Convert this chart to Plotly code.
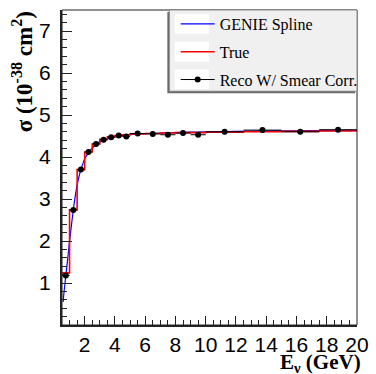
import plotly.graph_objects as go

# ---- data ----
bin_edges = [0.5, 1.0, 1.5, 2.0, 2.5, 3.0, 3.5, 4.0, 4.5, 5.0, 6.0, 7.0, 8.0, 9.0,
             10.0, 12.5, 15.0, 17.5, 20.0]
true_xsec = [1.24, 2.74, 3.70, 4.12, 4.31, 4.42, 4.48, 4.51, 4.53, 4.55, 4.56, 4.57,
             4.58, 4.58, 4.59, 4.60, 4.61, 4.62]
reco_xsec = [1.18, 2.74, 3.70, 4.12, 4.31, 4.41, 4.47, 4.51, 4.49, 4.56, 4.55, 4.53,
             4.57, 4.53, 4.60, 4.64, 4.60, 4.65]
reco_err = [0.03, 0.03, 0.02, 0.02, 0.02, 0.02, 0.02, 0.02, 0.02, 0.02, 0.02, 0.02,
            0.02, 0.02, 0.02, 0.02, 0.02, 0.02]
spline_e = [0.58, 0.6, 0.7, 0.8, 0.9, 1.0, 1.1, 1.2, 1.3, 1.4, 1.5, 1.6, 1.7, 1.8, 1.9,
            2.0, 2.2, 2.4, 2.6, 2.8, 3.0, 3.25, 3.5, 3.75, 4.0, 4.5, 5.0, 5.5, 6.0,
            7.0, 8.0, 9.0, 10.0, 12.0, 14.0, 16.0, 18.0, 20.0]
spline_xsec = [0.55, 0.66, 1.0, 1.33, 1.65, 2.0, 2.3, 2.6, 2.88, 3.12, 3.33, 3.5, 3.64,
               3.76, 3.86, 3.95, 4.08, 4.17, 4.25, 4.31, 4.36, 4.40, 4.43, 4.46, 4.48,
               4.51, 4.53, 4.545, 4.555, 4.57, 4.58, 4.59, 4.60, 4.61, 4.62, 4.625,
               4.63, 4.635]
x_ticks = [2, 4, 6, 8, 10, 12, 14, 16, 18, 20]
y_ticks = [1, 2, 3, 4, 5, 6, 7]

centers = [(a + b) / 2 for a, b in zip(bin_edges[:-1], bin_edges[1:])]
half_w = [(b - a) / 2 for a, b in zip(bin_edges[:-1], bin_edges[1:])]

W, H = 376, 374
L, R, T, B = 62, 363, 7, 325


def px(xp):
    return (xp - L) / (R - L)


def py(yp):
    return (B - yp) / (B - T)


fig = go.Figure()
fig.add_trace(go.Scatter(x=spline_e, y=spline_xsec, mode="lines", name="GENIE Spline",
                         line=dict(color="#0000ff", width=1.2, shape="spline"),
                         legendgroup="a"))
fig.add_trace(go.Scatter(x=bin_edges, y=true_xsec + [true_xsec[-1]], mode="lines",
                         name="True", line=dict(color="#ff0000", width=1.6, shape="hv"),
                         legendgroup="b"))
fig.add_trace(go.Scatter(x=centers, y=reco_xsec, mode="markers",
                         name="Reco W/ Smear Corr.", showlegend=False,
                         marker=dict(color="black", size=6),
                         error_x=dict(type="data", array=half_w, width=0, thickness=1,
                                      color="black"),
                         error_y=dict(type="data", array=reco_err, width=0, thickness=1,
                                      color="black"),
                         legendgroup="c"))
# legend entry for the reco points (line + marker sample)
fig.add_trace(go.Scatter(x=[None], y=[None], mode="lines+markers",
                         name="Reco W/ Smear Corr.",
                         line=dict(color="black", width=1),
                         marker=dict(color="black", size=6), legendgroup="c"))

tickfont = dict(family="Liberation Sans, Arial", size=21, color="black")
fig.update_xaxes(range=[0.5, 20], tickvals=x_ticks, ticks="inside", ticklen=9,
                 tickwidth=1, tickcolor="#222", showgrid=False, zeroline=False,
                 showline=True, linecolor="#222", linewidth=2, tickfont=tickfont,
                 minor=dict(dtick=0.5, tick0=0, ticks="inside", ticklen=5,
                            tickcolor="#222", showgrid=False))
fig.update_yaxes(range=[0, 7.5], tickvals=y_ticks, ticks="inside", ticklen=10,
                 tickwidth=1, tickcolor="#222", showgrid=False, zeroline=False,
                 showline=True, linecolor="#222", linewidth=2, tickfont=tickfont,
                 ticklabelstandoff=5,
                 minor=dict(dtick=0.2, tick0=0, ticks="inside", ticklen=5,
                            tickcolor="#222", showgrid=False))

shapes = [
    # frame top/right
    dict(type="rect", xref="paper", yref="paper", x0=0, x1=1, y0=0, y1=1,
         line=dict(color="#222", width=1), layer="above"),
    # legend shadow
    dict(type="rect", xref="paper", yref="paper", x0=px(169.5), x1=px(361),
         y0=py(91), y1=py(9), fillcolor="#6a6a6a", line=dict(width=0), layer="above"),
    # legend box
    dict(type="rect", xref="paper", yref="paper", x0=px(171.5), x1=px(363),
         y0=py(89), y1=py(7), fillcolor="#f0f0f0", line=dict(color="#777", width=0.8),
         layer="above"),
]
for (y0, y1) in [(11, 31), (39, 59), (67, 87)]:
    shapes.append(dict(type="rect", xref="paper", yref="paper", x0=px(177), x1=px(212),
                       y0=py(y1), y1=py(y0), fillcolor="white", line=dict(width=0),
                       layer="above"))

annotations = [
    dict(text="<b>σ (10<sup>-38</sup> cm<sup>2</sup>)</b>", xref="paper", yref="paper",
         x=px(22), y=py(6), xanchor="center", yanchor="top", textangle=-90,
         showarrow=False, font=dict(family="Liberation Serif, Times New Roman",
                                    size=23, color="black")),
    dict(text="<b>E<sub>ν</sub> (GeV)</b>", xref="paper", yref="paper",
         x=px(369), y=py(348), xanchor="right", yanchor="top", showarrow=False,
         font=dict(family="Liberation Serif, Times New Roman", size=21, color="black")),
]

fig.update_layout(
    width=W, height=H, margin=dict(l=L, r=W - R, t=T, b=H - B),
    paper_bgcolor="white", plot_bgcolor="white", showlegend=True,
    legend=dict(x=px(178), y=py(4), xanchor="left", yanchor="top",
                bgcolor="rgba(0,0,0,0)", borderwidth=0, tracegroupgap=4,
                itemwidth=34,
                font=dict(family="Liberation Serif, Times New Roman", size=16,
                          color="black")),
    shapes=shapes, annotations=annotations,
)

fig.write_html("out.html")
